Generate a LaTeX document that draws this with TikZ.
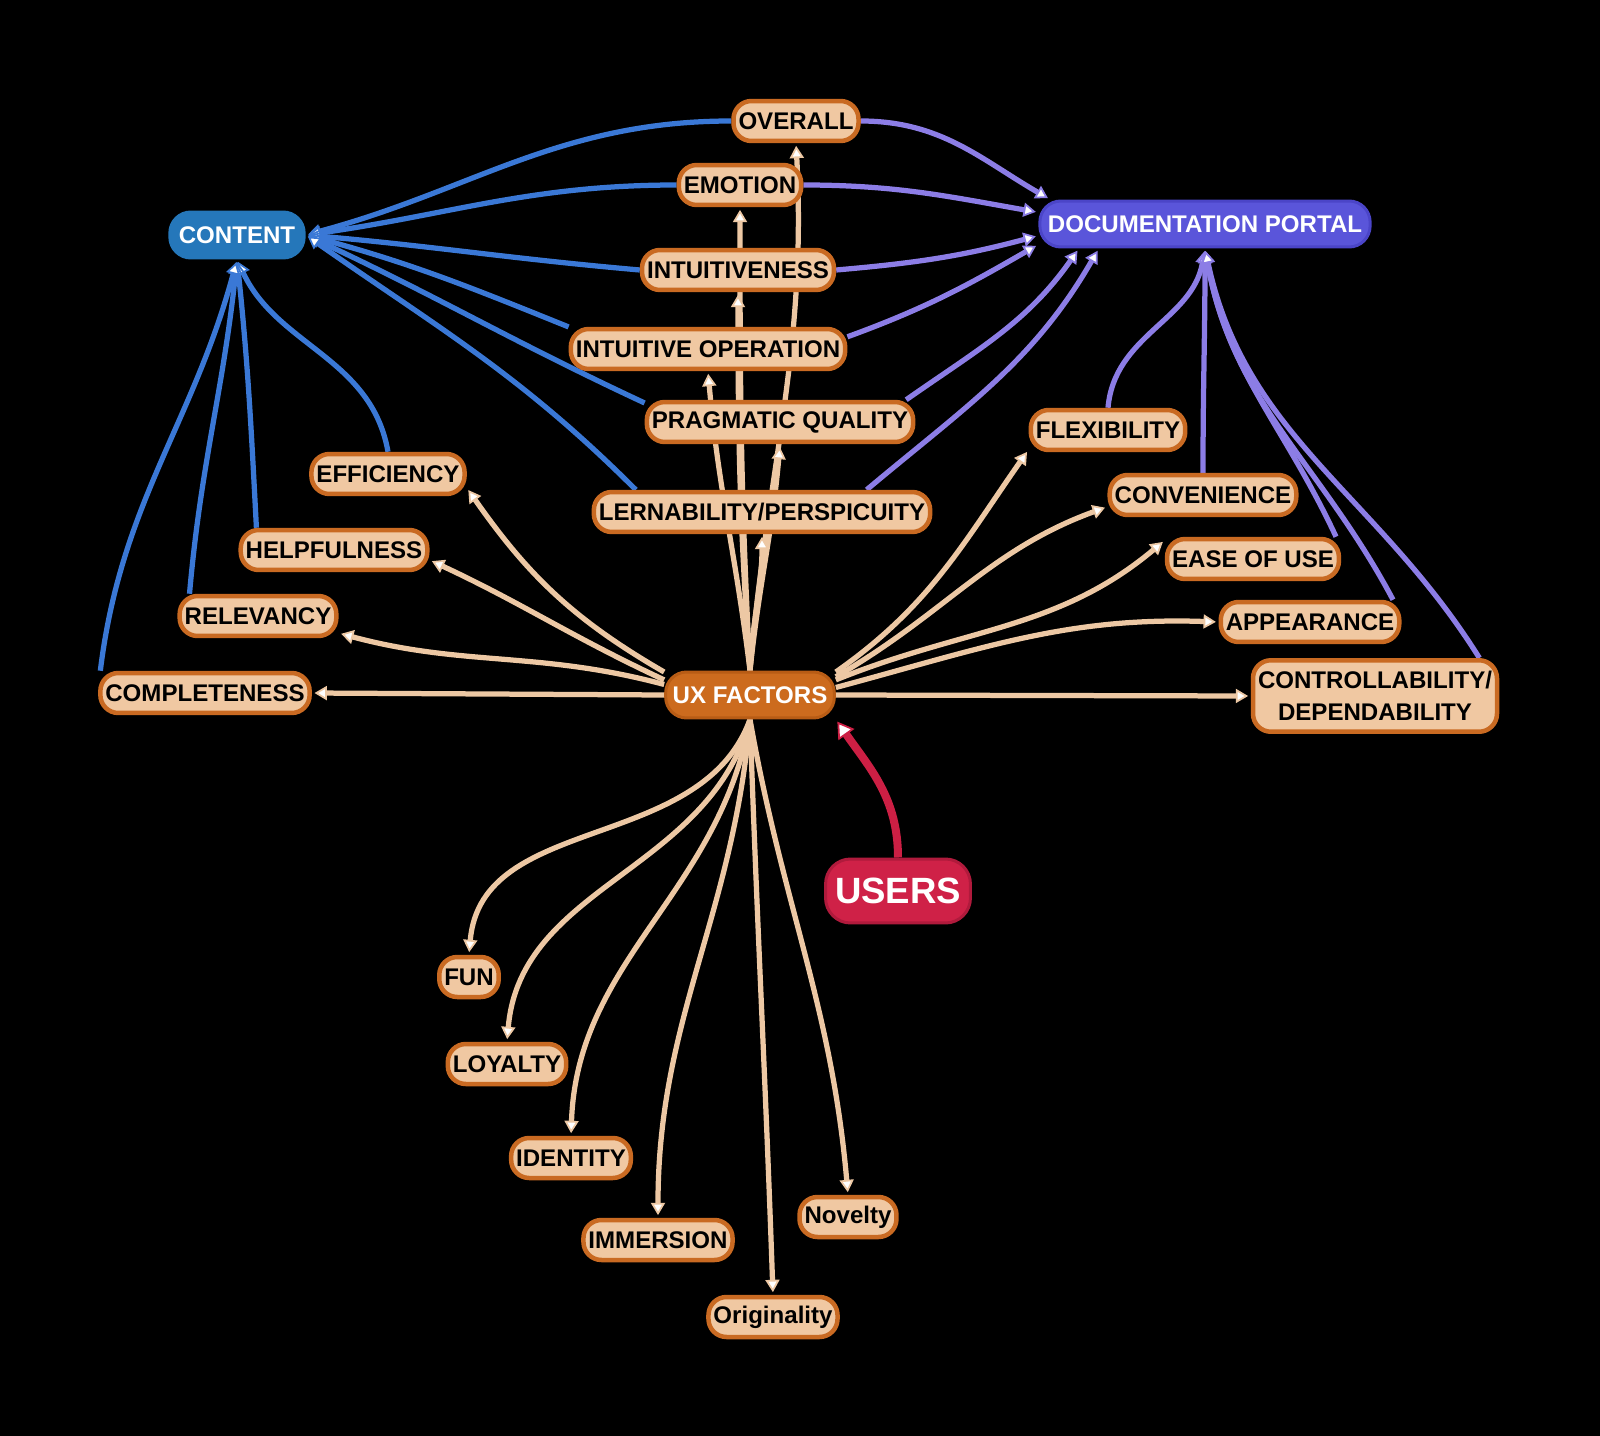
\documentclass[tikz,border=0pt]{standalone}
\usepackage{fontspec}
\setmainfont{Liberation Sans}
\usetikzlibrary{arrows.meta}

\definecolor{factorfill}{HTML}{F0C8A2}
\definecolor{factorborder}{HTML}{C96A22}
\definecolor{uxfill}{HTML}{CC6B1E}
\definecolor{uxborder}{HTML}{B85C15}
\definecolor{contentfill}{HTML}{2577BA}
\definecolor{portalfill}{HTML}{5A55DA}
\definecolor{portalborder}{HTML}{4B45C8}
\definecolor{usersfill}{HTML}{CF2147}
\definecolor{usersborder}{HTML}{B01A3C}
\definecolor{contentedge}{HTML}{3A78D6}
\definecolor{portaledge}{HTML}{8C7DE6}
\definecolor{uxedge}{HTML}{EDC8A4}
\definecolor{usersedge}{HTML}{CC1F44}

\pgfdeclarelayer{edges}
\pgfsetlayers{edges,main}

\begin{document}
\begin{tikzpicture}[
    x=0.02cm, y=-0.02cm,
    factor/.style={
        rectangle, rounded corners=0.36cm, draw=factorborder, line width=0.09cm,
        fill=factorfill, text=black, font=\fontsize{13.7}{18.2}\selectfont\bfseries,
        minimum height=0.8cm, inner xsep=0.1cm, inner ysep=0.1cm, align=center
    },
    hub/.style={
        rectangle, rounded corners=0.42cm, line width=0.06cm, text=white,
        font=\fontsize{13.7}{16}\selectfont\bfseries, minimum height=0.92cm
    },
    link/.style={line width=0.105cm, shorten >=1.5pt,
        -{Triangle[length=7pt, width=8pt, line width=1pt, fill=white]}},
    contentlink/.style={link, draw=contentedge},
    portallink/.style={link, draw=portaledge},
    uxlink/.style={link, draw=uxedge},
    userslink/.style={line width=0.16cm, draw=usersedge, shorten >=1.5pt,
        -{Triangle[length=9pt, width=11pt, line width=1pt, fill=white]}}
]

% Hubs
\node[hub, fill=contentfill, draw=contentfill, inner xsep=0.18cm] (content) at (237,235) {CONTENT};
\node[hub, fill=portalfill, draw=portalborder, inner xsep=0.16cm] (portal) at (1205,224) {DOCUMENTATION PORTAL};
\node[hub, fill=uxfill, draw=uxborder, inner xsep=0.14cm] (ux) at (750,695) {UX FACTORS};
\node[hub, fill=usersfill, draw=usersborder, rounded corners=0.5cm, inner xsep=0.19cm,
      minimum height=1.28cm, font=\fontsize{20.8}{24}\selectfont\bfseries] (users) at (898,891) {USERS};

% Factors
\node[factor] (overall) at (796,121) {OVERALL};
\node[factor] (emotion) at (740,185) {EMOTION};
\node[factor] (intuitiveness) at (738,270) {INTUITIVENESS};
\node[factor] (intop) at (708,349) {INTUITIVE OPERATION};
\node[factor] (pragmatic) at (780,422) {PRAGMATIC QUALITY};
\node[factor] (lernability) at (762,512) {LERNABILITY/PERSPICUITY};
\node[factor] (efficiency) at (388,474) {EFFICIENCY};
\node[factor] (helpfulness) at (334,550) {HELPFULNESS};
\node[factor] (relevancy) at (258,616) {RELEVANCY};
\node[factor] (completeness) at (205,693) {COMPLETENESS};
\node[factor] (flexibility) at (1108,430) {FLEXIBILITY};
\node[factor] (convenience) at (1203,495) {CONVENIENCE};
\node[factor] (easeofuse) at (1253,559) {EASE OF USE};
\node[factor] (appearance) at (1310,622) {APPEARANCE};
\node[factor, minimum height=1.43cm] (control) at (1375,696) {CONTROLLABILITY/\\DEPENDABILITY};
\node[factor] (fun) at (469,977) {FUN};
\node[factor] (loyalty) at (507,1064) {LOYALTY};
\node[factor] (identity) at (571,1158) {IDENTITY};
\node[factor] (immersion) at (658,1240) {IMMERSION};
\node[factor] (novelty) at (848,1217) {Novelty};
\node[factor] (originality) at (773,1317) {Originality};

\begin{pgfonlayer}{edges}
\fill[black] (0,0) rectangle (1600,1436);

% Links into CONTENT
\draw[contentlink] (overall.west) to[out=180,in=15] (content.east);
\draw[contentlink] (emotion.west) to[out=180,in=8] (content.east);
\draw[contentlink] (intuitiveness.west) to[out=175,in=-5] (content.east);
\draw[contentlink] (intop.171) to[out=158,in=-15] (content.east);
\draw[contentlink] (pragmatic.172) to[out=155,in=-25] (content.east);
\draw[contentlink] (lernability.170) to[out=135,in=-35] (content.east);
\draw[contentlink] (efficiency.north) to[out=100,in=-65] (content.south);
\draw[contentlink] (helpfulness.164) to[out=93,in=-84] (content.south);
\draw[contentlink] (relevancy.162) to[out=85,in=-96] (content.south);
\draw[contentlink] (completeness.168) to[out=83,in=-105] (content.south);

% Links into DOCUMENTATION PORTAL
\draw[portallink] (overall.east) to[out=0,in=150] (portal.171.5);
\draw[portallink] (emotion.east) to[out=0,in=170] (portal.176);
\draw[portallink] (intuitiveness.east) to[out=5,in=195] (portal.184);
\draw[portallink] (intop.5) to[out=20,in=210] (portal.187);
\draw[portallink] (pragmatic.10) to[out=35,in=-125] (portal.191);
\draw[portallink] (lernability.12) to[out=40,in=-120] (portal.193);
\draw[portallink] (flexibility.north) to[out=85,in=-100] (portal.south);
\draw[portallink] (convenience.north) to[out=90,in=-90] (portal.south);
\draw[portallink] (easeofuse.15) to[out=115,in=-80] (portal.south);
\draw[portallink] (appearance.15) to[out=118,in=-80] (portal.south);
\draw[portallink] (control.20) to[out=122,in=-78] (portal.south);

% UX FACTORS upwards
\draw[uxlink] (ux.north) to[out=85,in=-87] (overall.south);
\draw[uxlink] (ux.north) to[out=93,in=-90] (emotion.south);
\draw[uxlink] (ux.north) to[out=94,in=-90] (intuitiveness.south);
\draw[uxlink] (ux.north) to[out=97,in=-85] (intop.south);
\draw[uxlink] (ux.north) to[out=84,in=-95] (pragmatic.south);
\draw[uxlink] (ux.north) to[out=87,in=-90] (lernability.south);

% UX FACTORS sideways
\draw[uxlink] (ux.165) to[out=150,in=-55] (efficiency.-10);
\draw[uxlink] (ux.170) to[out=155,in=-25] (helpfulness.-6);
\draw[uxlink] (ux.173) to[out=165,in=-15] (relevancy.-12);
\draw[uxlink] (ux.west) -- (completeness.east);
\draw[uxlink] (ux.15) to[out=35,in=-125] (flexibility.194);
\draw[uxlink] (ux.12) to[out=30,in=-160] (convenience.187);
\draw[uxlink] (ux.10) to[out=22,in=-140] (easeofuse.168);
\draw[uxlink] (ux.5) to[out=15,in=178] (appearance.west);
\draw[uxlink] (ux.east) -- (control.west);

% UX FACTORS downwards
\draw[uxlink] (ux.south) to[out=-110,in=85] (fun.north);
\draw[uxlink] (ux.south) to[out=-105,in=85] (loyalty.north);
\draw[uxlink] (ux.south) to[out=-100,in=88] (identity.north);
\draw[uxlink] (ux.south) to[out=-95,in=90] (immersion.north);
\draw[uxlink] (ux.south) to[out=-88,in=92] (originality.north);
\draw[uxlink] (ux.south) to[out=-80,in=95] (novelty.north);

% USERS
\draw[userslink] (users.north) to[out=90,in=-55] (ux.south east);
\end{pgfonlayer}

\end{tikzpicture}
\end{document}
